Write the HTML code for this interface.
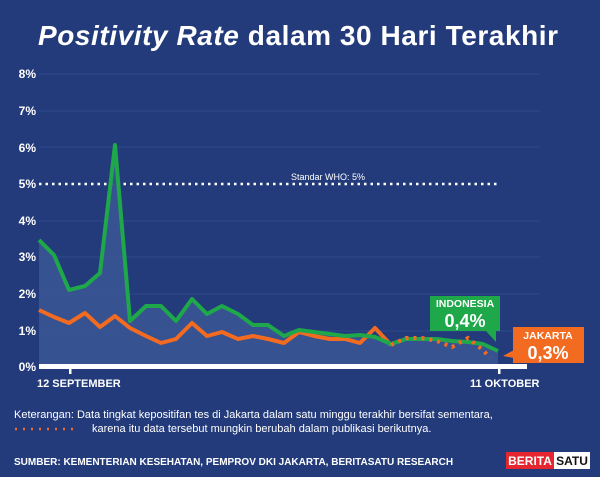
<!DOCTYPE html>
<html><head><style>
body{margin:0;width:600px;height:477px;background:#233b7b;overflow:hidden;font-family:"Liberation Sans",sans-serif;color:#fff}
</style></head><body>
<svg width="600" height="477" xmlns="http://www.w3.org/2000/svg" style="position:absolute;left:0;top:0">
<rect width="600" height="477" fill="#233b7b"/>
<text x="298" y="45" text-anchor="middle" font-size="28" font-weight="bold" fill="#fff" textLength="520"><tspan font-style="italic">Positivity Rate</tspan> dalam 30 Hari Terakhir</text>
<g stroke="#2c4a8e" stroke-width="1">
<line x1="39" x2="540" y1="74" y2="74"/><line x1="39" x2="540" y1="111" y2="111"/><line x1="39" x2="540" y1="147" y2="147"/><line x1="39" x2="540" y1="221" y2="221"/><line x1="39" x2="540" y1="257" y2="257"/><line x1="39" x2="540" y1="294" y2="294"/><line x1="39" x2="540" y1="331" y2="331"/>
</g>
<g font-size="12" font-weight="bold" fill="#fff" text-anchor="end">
<text x="36" y="78">8%</text><text x="36" y="115">7%</text><text x="36" y="152">6%</text><text x="36" y="188">5%</text><text x="36" y="225">4%</text><text x="36" y="261">3%</text><text x="36" y="298">2%</text><text x="36" y="335">1%</text><text x="36" y="371">0%</text>
</g>
<line x1="39" x2="500" y1="184" y2="184" stroke="#fff" stroke-width="2.5" stroke-dasharray="2.5,4"/>
<text x="328" y="180" font-size="9" fill="#fff" text-anchor="middle">Standar WHO: 5%</text>
<polygon fill="#3a5592" opacity="0.9" points="39,240 54,255 69,290 85,286 100,273 115,145 130,321 146,306 161,306 176,321 192,299 207,314 222,306 238,314 253,325 268,325 284,336 299,330 314,332 330,334 345,336 360,335 375,337 391,344 406,339 422,339 437,339 452,341 468,342 483,344 498,351 498,367 39,367"/>
<polyline fill="none" stroke="#f26b21" stroke-width="4" stroke-linejoin="round" points="39,310 54,317 69,323 85,313 100,327 115,316 130,328 146,336 161,343 176,339 192,323 207,336 222,332 238,339 253,336 268,339 284,343 299,332 314,336 330,339 345,339 360,343 375,328 391,345"/>
<polyline fill="none" stroke="#1ea84a" stroke-width="4" stroke-linejoin="round" points="39,240 54,255 69,290 85,286 100,273 115,145 130,321 146,306 161,306 176,321 192,299 207,314 222,306 238,314 253,325 268,325 284,336 299,330 314,332 330,334 345,336 360,335 375,337 391,344 406,339 422,339 437,339 452,341 468,342 483,344 498,351"/>
<polyline fill="none" stroke="#f26b21" stroke-width="4" stroke-dasharray="3,5" points="391,345 406,338 422,338 437,341 452,347 468,338 483,350 490,358"/>
<rect x="39" y="364" width="488" height="5" fill="#fff"/>
<rect x="69" y="368" width="2.5" height="6" fill="#fff"/>
<rect x="498" y="368" width="2.5" height="6" fill="#fff"/>
<text x="37" y="387" font-size="11" font-weight="bold" fill="#fff">12 SEPTEMBER</text>
<text x="470" y="387" font-size="11" font-weight="bold" fill="#fff">11 OKTOBER</text>
<rect x="430" y="296" width="70" height="35" fill="#1ea84a"/>
<polygon points="485,330 496,330 496,342" fill="#1ea84a"/>
<text x="465" y="307" font-size="10.5" font-weight="bold" fill="#fff" text-anchor="middle">INDONESIA</text>
<text x="465" y="327" font-size="18" font-weight="bold" fill="#fff" text-anchor="middle">0,4%</text>
<rect x="513" y="327" width="71" height="36" fill="#f26b21"/>
<polygon points="514,350 514,358 503,356" fill="#f26b21"/>
<text x="548" y="339" font-size="10.5" font-weight="bold" fill="#fff" text-anchor="middle">JAKARTA</text>
<text x="548" y="359" font-size="18" font-weight="bold" fill="#fff" text-anchor="middle">0,3%</text>
<text x="14" y="418" font-size="11" fill="#fff">Keterangan: Data tingkat kepositifan tes di Jakarta dalam satu minggu terakhir bersifat sementara,</text>
<text x="92" y="432" font-size="11" fill="#fff">karena itu data tersebut mungkin berubah dalam publikasi berikutnya.</text>
<line x1="15" x2="75" y1="429" y2="429" stroke="#f26b21" stroke-width="2.5" stroke-dasharray="2,6"/>
<text x="14" y="465" font-size="10" font-weight="bold" fill="#fff">SUMBER: KEMENTERIAN KESEHATAN, PEMPROV DKI JAKARTA, BERITASATU RESEARCH</text>
<rect x="506" y="452" width="48" height="17" fill="#e5252f"/>
<rect x="554" y="452" width="36" height="17" fill="#fff"/>
<text x="530" y="465" font-size="12" font-weight="bold" fill="#fff" text-anchor="middle">BERITA</text>
<text x="572" y="465" font-size="12" font-weight="bold" fill="#111" text-anchor="middle">SATU</text>
</svg>
</body></html>
